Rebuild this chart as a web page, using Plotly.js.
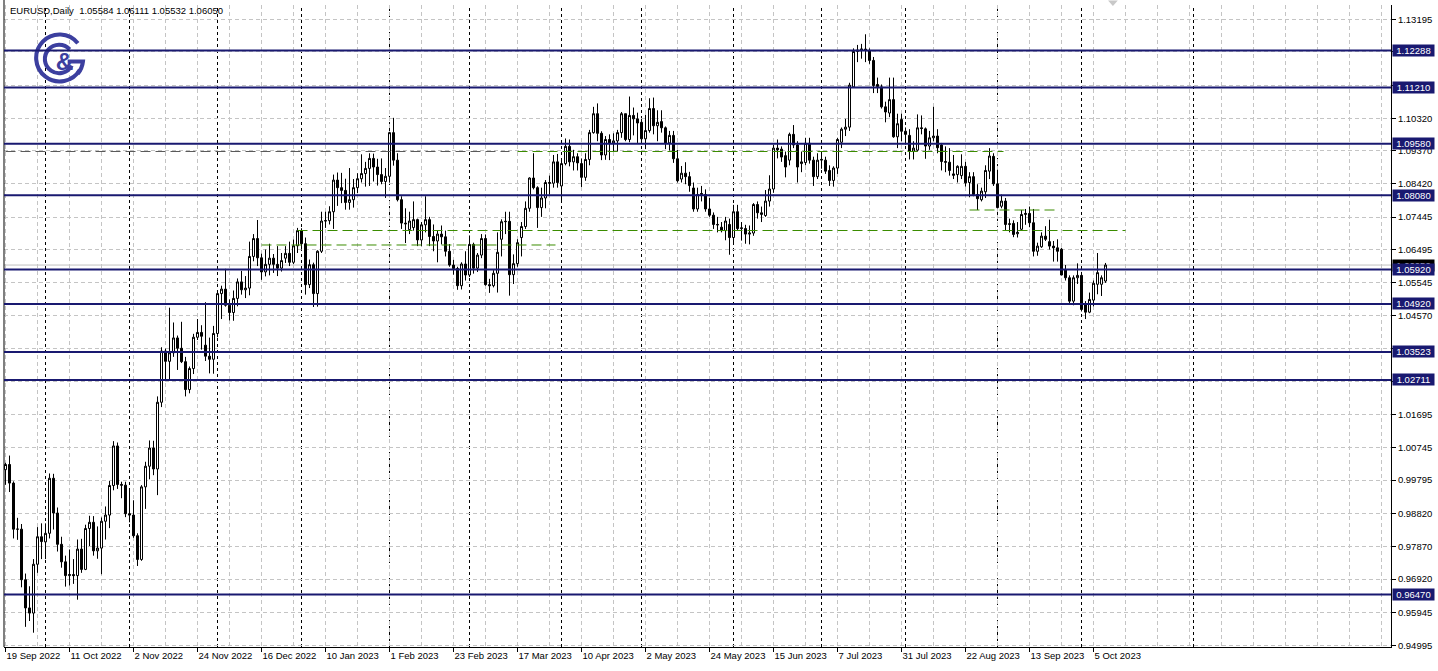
<!DOCTYPE html>
<html><head><meta charset="utf-8">
<script src="https://cdn.plot.ly/plotly-3.0.1.min.js"></script>
<style>html,body{margin:0;padding:0;background:#fff;overflow:hidden}#chart{width:1438px;height:671px}</style>
</head><body><div id="chart"></div>
<script>
// ---- DATA: daily EURUSD candles [open, high, low, close], one array per month ----
const sep22=[[1.0010,1.0030,0.9966,1.0025],[1.0025,1.0051,0.9945,0.9971],[0.9971,0.9976,0.9810,0.9837],[0.9837,0.9870,0.9806,0.9837],[0.9837,0.9852,0.9668,0.9690],[0.9690,0.9708,0.9553,0.9608],[0.9608,0.9671,0.9570,0.9593],[0.9593,0.9750,0.9536,0.9735],[0.9735,0.9843,0.9710,0.9815],[0.9815,0.9854,0.9750,0.9801]];
const oct22=[[0.9800,0.9854,0.9750,0.9825],[0.9825,0.9999,0.9810,0.9985],[0.9985,0.9998,0.9836,0.9884],[0.9884,0.9900,0.9772,0.9793],[0.9793,0.9815,0.9725,0.9742],[0.9742,0.9760,0.9670,0.9702],[0.9702,0.9778,0.9673,0.9705],[0.9705,0.9750,0.9678,0.9702],[0.9702,0.9807,0.9632,0.9779],[0.9779,0.9809,0.9710,0.9720],[0.9720,0.9850,0.9718,0.9839],[0.9839,0.9876,0.9788,0.9857],[0.9857,0.9875,0.9760,0.9774],[0.9774,0.9845,0.9751,0.9782],[0.9782,0.9871,0.9706,0.9860],[0.9860,0.9903,0.9807,0.9878],[0.9878,0.9977,0.9840,0.9964],[0.9964,1.0093,0.9950,1.0079],[1.0079,1.0089,0.9954,0.9967],[0.9967,0.9975,0.9927,0.9965],[0.9965,0.9975,0.9872,0.9882]];
const nov22=[[0.9882,0.9954,0.9857,0.9878],[0.9878,0.9921,0.9812,0.9818],[0.9818,0.9825,0.9730,0.9749],[0.9749,0.9965,0.9745,0.9960],[0.9960,1.0033,0.9896,1.0020],[1.0020,1.0095,0.9982,1.0073],[1.0073,1.0094,0.9994,1.0012],[1.0012,1.0223,0.9936,1.0206],[1.0206,1.0366,1.0192,1.0355],[1.0355,1.0362,1.0271,1.0325],[1.0325,1.0481,1.0272,1.0350],[1.0350,1.0438,1.0338,1.0393],[1.0393,1.0400,1.0300,1.0363],[1.0363,1.0440,1.0320,1.0324],[1.0324,1.0338,1.0223,1.0243],[1.0243,1.0310,1.0232,1.0304],[1.0304,1.0405,1.0288,1.0395],[1.0395,1.0448,1.0387,1.0409],[1.0409,1.0430,1.0359,1.0398],[1.0372,1.0497,1.0326,1.0340],[1.0340,1.0394,1.0290,1.0331],[1.0331,1.0428,1.0289,1.0406]];
const dec22=[[1.0406,1.0530,1.0395,1.0522],[1.0522,1.0545,1.0448,1.0535],[1.0535,1.0594,1.0484,1.0488],[1.0488,1.0505,1.0444,1.0467],[1.0467,1.0531,1.0443,1.0508],[1.0508,1.0566,1.0485,1.0556],[1.0556,1.0588,1.0519,1.0533],[1.0533,1.0573,1.0509,1.0538],[1.0538,1.0673,1.0517,1.0630],[1.0630,1.0695,1.0616,1.0682],[1.0682,1.0736,1.0602,1.0626],[1.0626,1.0638,1.0562,1.0585],[1.0585,1.0650,1.0572,1.0607],[1.0607,1.0667,1.0575,1.0625],[1.0625,1.0637,1.0582,1.0607],[1.0607,1.0660,1.0573,1.0596],[1.0596,1.0640,1.0586,1.0618],[1.0625,1.0660,1.0611,1.0639],[1.0639,1.0673,1.0602,1.0613],[1.0613,1.0679,1.0608,1.0661],[1.0661,1.0713,1.0640,1.0705]];
const jan23=[[1.0705,1.0712,1.0650,1.0667],[1.0667,1.0685,1.0519,1.0548],[1.0548,1.0621,1.0538,1.0606],[1.0606,1.0612,1.0483,1.0522],[1.0522,1.0648,1.0484,1.0645],[1.0645,1.0760,1.0640,1.0733],[1.0733,1.0760,1.0713,1.0734],[1.0734,1.0776,1.0723,1.0760],[1.0760,1.0868,1.0710,1.0852],[1.0852,1.0874,1.0777,1.0830],[1.0830,1.0873,1.0785,1.0822],[1.0822,1.0856,1.0766,1.0787],[1.0787,1.0887,1.0766,1.0795],[1.0795,1.0855,1.0772,1.0830],[1.0830,1.0872,1.0814,1.0856],[1.0856,1.0927,1.0845,1.0871],[1.0871,1.0905,1.0833,1.0886],[1.0886,1.0930,1.0835,1.0915],[1.0915,1.0929,1.0848,1.0890],[1.0890,1.0914,1.0836,1.0868],[1.0868,1.0915,1.0840,1.0848],[1.0848,1.0887,1.0800,1.0863]];
const feb23=[[1.0863,1.0992,1.0845,1.0990],[1.0990,1.1033,1.0894,1.0910],[1.0910,1.0930,1.0790,1.0795],[1.0795,1.0805,1.0710,1.0727],[1.0727,1.0770,1.0669,1.0725],[1.0708,1.0760,1.0695,1.0733],[1.0714,1.0790,1.0705,1.0737],[1.0737,1.0740,1.0660,1.0678],[1.0678,1.0730,1.0660,1.0722],[1.0722,1.0805,1.0700,1.0737],[1.0737,1.0745,1.0660,1.0688],[1.0688,1.0723,1.0645,1.0675],[1.0675,1.0705,1.0613,1.0695],[1.0695,1.0720,1.0665,1.0687],[1.0687,1.0705,1.0630,1.0645],[1.0645,1.0666,1.0600,1.0605],[1.0605,1.0620,1.0577,1.0595],[1.0595,1.0600,1.0533,1.0545],[1.0545,1.0613,1.0534,1.0608],[1.0608,1.0645,1.0560,1.0576]];
const mar23=[[1.0576,1.0691,1.0570,1.0665],[1.0665,1.0670,1.0580,1.0596],[1.0596,1.0640,1.0585,1.0634],[1.0634,1.0695,1.0625,1.0682],[1.0682,1.0694,1.0545,1.0548],[1.0548,1.0565,1.0524,1.0545],[1.0545,1.0590,1.0540,1.0581],[1.0581,1.0700,1.0525,1.0642],[1.0680,1.0738,1.0630,1.0731],[1.0731,1.0760,1.0695,1.0732],[1.0732,1.0760,1.0516,1.0577],[1.0577,1.0636,1.0550,1.0609],[1.0609,1.0680,1.0600,1.0670],[1.0685,1.0730,1.0630,1.0717],[1.0717,1.0790,1.0710,1.0770],[1.0770,1.0860,1.0760,1.0858],[1.0858,1.0930,1.0825,1.0830],[1.0830,1.0834,1.0713,1.0772],[1.0772,1.0830,1.0745,1.0800],[1.0800,1.0852,1.0770,1.0845],[1.0845,1.0865,1.0810,1.0843],[1.0843,1.0925,1.0830,1.0905],[1.0905,1.0928,1.0830,1.0845]];
const apr23=[[1.0835,1.0916,1.0788,1.0900],[1.0900,1.0973,1.0895,1.0950],[1.0950,1.0970,1.0892,1.0905],[1.0905,1.0940,1.0880,1.0920],[1.0920,1.0930,1.0880,1.0902],[1.0900,1.0915,1.0832,1.0860],[1.0860,1.0930,1.0850,1.0912],[1.0912,1.0998,1.0895,1.0990],[1.0990,1.1065,1.0987,1.1045],[1.1045,1.1075,1.0965,1.0988],[1.0988,1.0994,1.0910,1.0925],[1.0925,1.0980,1.0911,1.0970],[1.0970,1.0985,1.0910,1.0960],[1.0960,1.0988,1.0935,1.0966],[1.0966,1.0998,1.0935,1.0990],[1.0990,1.1050,1.0975,1.1045],[1.1045,1.1045,1.0965,1.0970],[1.0970,1.1095,1.0962,1.1040],[1.1040,1.1063,1.0982,1.1030],[1.1030,1.1048,1.0960,1.1018]];
const may23=[[1.1020,1.1030,1.0968,1.0972],[1.0972,1.1042,1.0942,1.0996],[1.0996,1.1090,1.0990,1.1060],[1.1060,1.1092,1.0985,1.1010],[1.1010,1.1055,1.0965,1.1020],[1.1022,1.1055,1.0990,1.1004],[1.1004,1.1008,1.0942,1.0960],[1.0960,1.0995,1.0938,1.0982],[1.0982,1.0995,1.0902,1.0914],[1.0914,1.0940,1.0845,1.0850],[1.0855,1.0893,1.0845,1.0872],[1.0872,1.0904,1.0840,1.0862],[1.0862,1.0876,1.0818,1.0836],[1.0829,1.0845,1.0760,1.0768],[1.0768,1.0830,1.0760,1.0810],[1.0810,1.0835,1.0790,1.0813],[1.0810,1.0825,1.0760,1.0768],[1.0768,1.0800,1.0745,1.0750],[1.0750,1.0758,1.0710,1.0723],[1.0723,1.0745,1.0700,1.0722],[1.0715,1.0730,1.0700,1.0705],[1.0705,1.0745,1.0677,1.0733],[1.0723,1.0740,1.0635,1.0685]];
const jun23=[[1.0685,1.0780,1.0665,1.0760],[1.0760,1.0780,1.0705,1.0711],[1.0711,1.0730,1.0676,1.0713],[1.0711,1.0722,1.0667,1.0695],[1.0695,1.0720,1.0665,1.0698],[1.0698,1.0785,1.0690,1.0781],[1.0781,1.0790,1.0740,1.0757],[1.0752,1.0775,1.0730,1.0757],[1.0749,1.0823,1.0745,1.0791],[1.0791,1.0866,1.0775,1.0826],[1.0826,1.0955,1.0815,1.0945],[1.0945,1.0970,1.0915,1.0940],[1.0942,1.0950,1.0905,1.0919],[1.0923,1.0935,1.0860,1.0890],[1.0910,1.0990,1.0895,1.0985],[1.0985,1.1012,1.0945,1.0954],[1.0954,1.0965,1.0845,1.0890],[1.0900,1.0935,1.0875,1.0905],[1.0903,1.0975,1.0895,1.0959],[1.0959,1.0975,1.0900,1.0910],[1.0910,1.0920,1.0835,1.0862],[1.0862,1.0930,1.0855,1.0910]];
const jul23=[[1.0910,1.0935,1.0885,1.0912],[1.0910,1.0920,1.0870,1.0878],[1.0880,1.0895,1.0835,1.0851],[1.0851,1.0892,1.0833,1.0887],[1.0887,1.0975,1.0870,1.0970],[1.0962,1.1005,1.0945,1.1000],[1.1000,1.1030,1.0980,1.1006],[1.1006,1.1135,1.0995,1.1128],[1.1123,1.1235,1.1120,1.1226],[1.1226,1.1245,1.1195,1.1230],[1.1230,1.1248,1.1205,1.1233],[1.1233,1.1276,1.1195,1.1230],[1.1229,1.1235,1.1190,1.1200],[1.1200,1.1210,1.1105,1.1127],[1.1130,1.1150,1.1105,1.1124],[1.1123,1.1130,1.1060,1.1065],[1.1065,1.1080,1.1020,1.1050],[1.1047,1.1150,1.1035,1.1086],[1.1086,1.1150,1.0975,1.0978],[1.0978,1.1045,1.0945,1.1016],[1.1028,1.1045,1.0965,1.0994]];
const aug23=[[1.0994,1.1005,1.0955,1.0985],[1.0982,1.1000,1.0912,1.0936],[1.0936,1.0965,1.0912,1.0945],[1.0939,1.1043,1.0935,1.1004],[1.1004,1.1040,1.0985,1.1002],[1.1001,1.1005,1.0914,1.0951],[1.0951,1.0995,1.0940,1.0975],[1.0975,1.1065,1.0965,1.0980],[1.0980,1.1000,1.0930,1.0946],[1.0954,1.0960,1.0880,1.0906],[1.0906,1.0950,1.0875,1.0904],[1.0904,1.0945,1.0865,1.0880],[1.0870,1.0925,1.0855,1.0866],[1.0868,1.0895,1.0845,1.0892],[1.0865,1.0927,1.0855,1.0892],[1.0892,1.0905,1.0833,1.0844],[1.0845,1.0875,1.0802,1.0862],[1.0862,1.0875,1.0805,1.0810],[1.0810,1.0840,1.0765,1.0798],[1.0795,1.0830,1.0790,1.0820],[1.0818,1.0895,1.0800,1.0880],[1.0878,1.0945,1.0855,1.0922],[1.0921,1.0930,1.0835,1.0841]];
const sep23=[[1.0841,1.0882,1.0770,1.0772],[1.0776,1.0810,1.0770,1.0791],[1.0791,1.0800,1.0705,1.0723],[1.0723,1.0740,1.0700,1.0725],[1.0726,1.0735,1.0686,1.0694],[1.0696,1.0730,1.0685,1.0700],[1.0709,1.0765,1.0705,1.0752],[1.0752,1.0768,1.0722,1.0755],[1.0755,1.0775,1.0715,1.0728],[1.0728,1.0768,1.0630,1.0645],[1.0645,1.0670,1.0632,1.0660],[1.0658,1.0700,1.0655,1.0689],[1.0689,1.0718,1.0675,1.0680],[1.0673,1.0737,1.0650,1.0660],[1.0660,1.0675,1.0615,1.0655],[1.0655,1.0680,1.0615,1.0645],[1.0651,1.0655,1.0575,1.0576],[1.0592,1.0605,1.0560,1.0568],[1.0568,1.0575,1.0490,1.0500],[1.0500,1.0575,1.0488,1.0568],[1.0568,1.0610,1.0550,1.0575]];
const oct23=[[1.0575,1.0585,1.0470,1.0476],[1.0490,1.0500,1.0448,1.0468],[1.0468,1.0525,1.0465,1.0505],[1.0503,1.0560,1.0485,1.0552],[1.0549,1.0640,1.0520,1.0583],[1.0549,1.0575,1.0515,1.0568],[1.05584,1.06111,1.05532,1.06050]];

const firstDate = '2022-09-19';
const holidays = ['2022-12-26'];
const monthNames = ['Jan','Feb','Mar','Apr','May','Jun','Jul','Aug','Sep','Oct','Nov','Dec'];
const xTickLabels = ['19 Sep 2022','11 Oct 2022','2 Nov 2022','24 Nov 2022','16 Dec 2022','10 Jan 2023','1 Feb 2023','23 Feb 2023','17 Mar 2023','10 Apr 2023','2 May 2023','24 May 2023','15 Jun 2023','7 Jul 2023','31 Jul 2023','22 Aug 2023','13 Sep 2023','5 Oct 2023'];
const yTicks = [1.13195,1.12245,1.11270,1.10320,1.09370,1.08420,1.07445,1.06495,1.05545,1.04570,1.03620,1.02670,1.01695,1.00745,0.99795,0.98820,0.97870,0.96920,0.95945,0.94995];
const levels = [1.12288,1.11210,1.09580,1.08080,1.05920,1.04920,1.03523,1.02711,0.96470];
const bidPrice = 1.06050;
const header = 'EURUSD,Daily  1.05584 1.06111 1.05532 1.06050';
// dashed trend lines: price, first bar date, last bar (index, may run past data)
const trendPrice = [1.09351, 1.09351, 1.07054, 1.06633, 1.07650];
const trendFrom  = ['19 Sep 2022','17 Mar 2023','30 Dec 2022','16 Dec 2022','23 Aug 2023'];
const trendTo    = [126, 249.5, 280, 137.5, 263];
const trendKind  = ['gray','green','green','green','green'];
const futureSeparator = 297;

// ---- build ----
const months = [sep22,oct22,nov22,dec22,jan23,feb23,mar23,apr23,may23,jun23,jul23,aug23,sep23,oct23];
const rows = [].concat(...months);
const dates = [];
{
  const d = new Date(firstDate + 'T00:00:00Z');
  while (dates.length < rows.length) {
    const wd = d.getUTCDay(), iso = d.toISOString().slice(0,10);
    if (wd !== 0 && wd !== 6 && !holidays.includes(iso)) dates.push(new Date(d));
    d.setUTCDate(d.getUTCDate() + 1);
  }
}
const labels = dates.map(d => d.getUTCDate() + ' ' + monthNames[d.getUTCMonth()] + ' ' + d.getUTCFullYear());
const idx = rows.map((r,i) => i);
const open = rows.map(r=>r[0]), high = rows.map(r=>r[1]), low = rows.map(r=>r[2]), close = rows.map(r=>r[3]);

const sepIdx = [];
for (let i=1;i<dates.length;i++) if (dates[i].getUTCMonth() !== dates[i-1].getUTCMonth()) sepIdx.push(i);
sepIdx.push(futureSeparator);

// tick labels hidden under a level label (as in the terminal)
const yTickText = yTicks.map(v => levels.some(l => Math.abs(l - v) < 0.0012) ? '' : v.toFixed(5));

const NAVY = '#191970';
const FONT = 'Liberation Sans, Arial, sans-serif';
const shapes = [];
const annotations = [];

shapes.push({type:'line', xref:'paper', yref:'paper', x0:0, x1:0, y0:0, y1:1.01, line:{color:'#000', width:1}});
sepIdx.forEach(i => shapes.push({type:'line', xref:'x', yref:'paper', x0:i, x1:i, y0:0, y1:1, layer:'below', line:{color:'#000', width:1, dash:'3px,3px'}}));
shapes.push({type:'line', xref:'paper', yref:'y', x0:0, x1:1, y0:bidPrice, y1:bidPrice, layer:'below', line:{color:'#c0c0c0', width:1}});
trendPrice.forEach((p,k) => shapes.push({type:'line', xref:'x', yref:'y', x0:labels.indexOf(trendFrom[k]), x1:trendTo[k], y0:p, y1:p, layer:'above',
  line:{color: trendKind[k]==='green' ? '#3b8c00' : '#5a5a5a', width:1, dash:'10px,5px'}}));
levels.forEach(v => shapes.push({type:'line', xref:'paper', yref:'y', x0:0, x1:1, y0:v, y1:v, layer:'above', line:{color:NAVY, width:2}}));
shapes.push({type:'path', xref:'paper', yref:'paper', path:'M 0.7960 1.0070 L 0.8030 1.0070 L 0.7995 0.9985 Z', fillcolor:'#c8c8c8', line:{width:0}});

annotations.push({xref:'paper', yref:'paper', x:0.003, y:1.0, xanchor:'left', yanchor:'top', yshift:2, text:header, showarrow:false, font:{family:FONT, size:9.5, color:'#000'}});
annotations.push({xref:'paper', yref:'y', x:1, y:bidPrice, xanchor:'left', yanchor:'middle', xshift:1, width:40, height:10, borderpad:0.5, text:bidPrice.toFixed(5), showarrow:false, bgcolor:'#000', font:{family:FONT, size:9.5, color:'#fff'}});
levels.forEach(v => annotations.push({xref:'paper', yref:'y', x:1, y:v, xanchor:'left', yanchor:'middle', xshift:1, width:40, height:10, borderpad:0.5, text:v.toFixed(5), showarrow:false, bgcolor:NAVY, font:{family:FONT, size:9.5, color:'#fff'}}));

const logoSvg = "<svg xmlns='http://www.w3.org/2000/svg' viewBox='0 0 52 52'>" +
  "<g fill='none' stroke='#3c3f9f' stroke-width='4'>" +
  "<path d='M 44 12 A 23 23 0 1 0 46 38'/>" +
  "<path d='M 36 18 A 14 14 0 1 0 38 34'/>" +
  "<path d='M 34 30 L 49 30 A 23 23 0 0 1 44 42'/>" +
  "</g><text x='31' y='38' font-family='Liberation Sans, Arial' font-weight='bold' font-size='24' fill='#3c3f9f' text-anchor='middle'>&amp;</text></svg>";

const trace = {type:'candlestick', x:idx, open, high, low, close, whiskerwidth:0, hoverinfo:'skip',
  increasing:{line:{color:'#000', width:1}, fillcolor:'#fff'},
  decreasing:{line:{color:'#000', width:1}, fillcolor:'#000'}};

const layout = {
  width:1438, height:671, margin:{l:4, r:47, t:5, b:24},
  paper_bgcolor:'#fff', plot_bgcolor:'#fff', showlegend:false,
  boxgap:0.5, boxgroupgap:0,
  font:{family:FONT, size:9.5, color:'#000'},
  xaxis:{range:[-0.375,346.375], tickmode:'array', tickvals:xTickLabels.map(l=>labels.indexOf(l)), ticktext:xTickLabels,
    ticks:'outside', ticklen:4, tickcolor:'#000', ticklabelposition:'outside right', tickfont:{family:FONT, size:9.5},
    showgrid:true, gridcolor:'#c4c4c4', griddash:'4px,3px', gridwidth:1,
    minor:{tickmode:'linear', tick0:0, dtick:8, showgrid:true, gridcolor:'#c4c4c4', griddash:'4px,3px', ticks:''},
    showline:true, linecolor:'#000', linewidth:1, zeroline:false, rangeslider:{visible:false}, fixedrange:true},
  yaxis:{range:[0.94944,1.13611], side:'right', tickmode:'array', tickvals:yTicks, ticktext:yTickText,
    ticks:'outside', ticklen:4, tickcolor:'#000', tickfont:{family:FONT, size:9.5},
    showgrid:true, gridcolor:'#c4c4c4', griddash:'4px,3px', gridwidth:1,
    showline:true, linecolor:'#000', linewidth:1, zeroline:false, fixedrange:true},
  shapes, annotations,
  images:[{source:'data:image/svg+xml;utf8,' + encodeURIComponent(logoSvg), xref:'paper', yref:'paper',
    x:(33-4)/1387, y:(647-31)/642, sizex:53/1387, sizey:53/642, xanchor:'left', yanchor:'top', sizing:'stretch', layer:'above'}]
};
Plotly.newPlot('chart', [trace], layout, {displayModeBar:false, staticPlot:true});
</script></body></html>
